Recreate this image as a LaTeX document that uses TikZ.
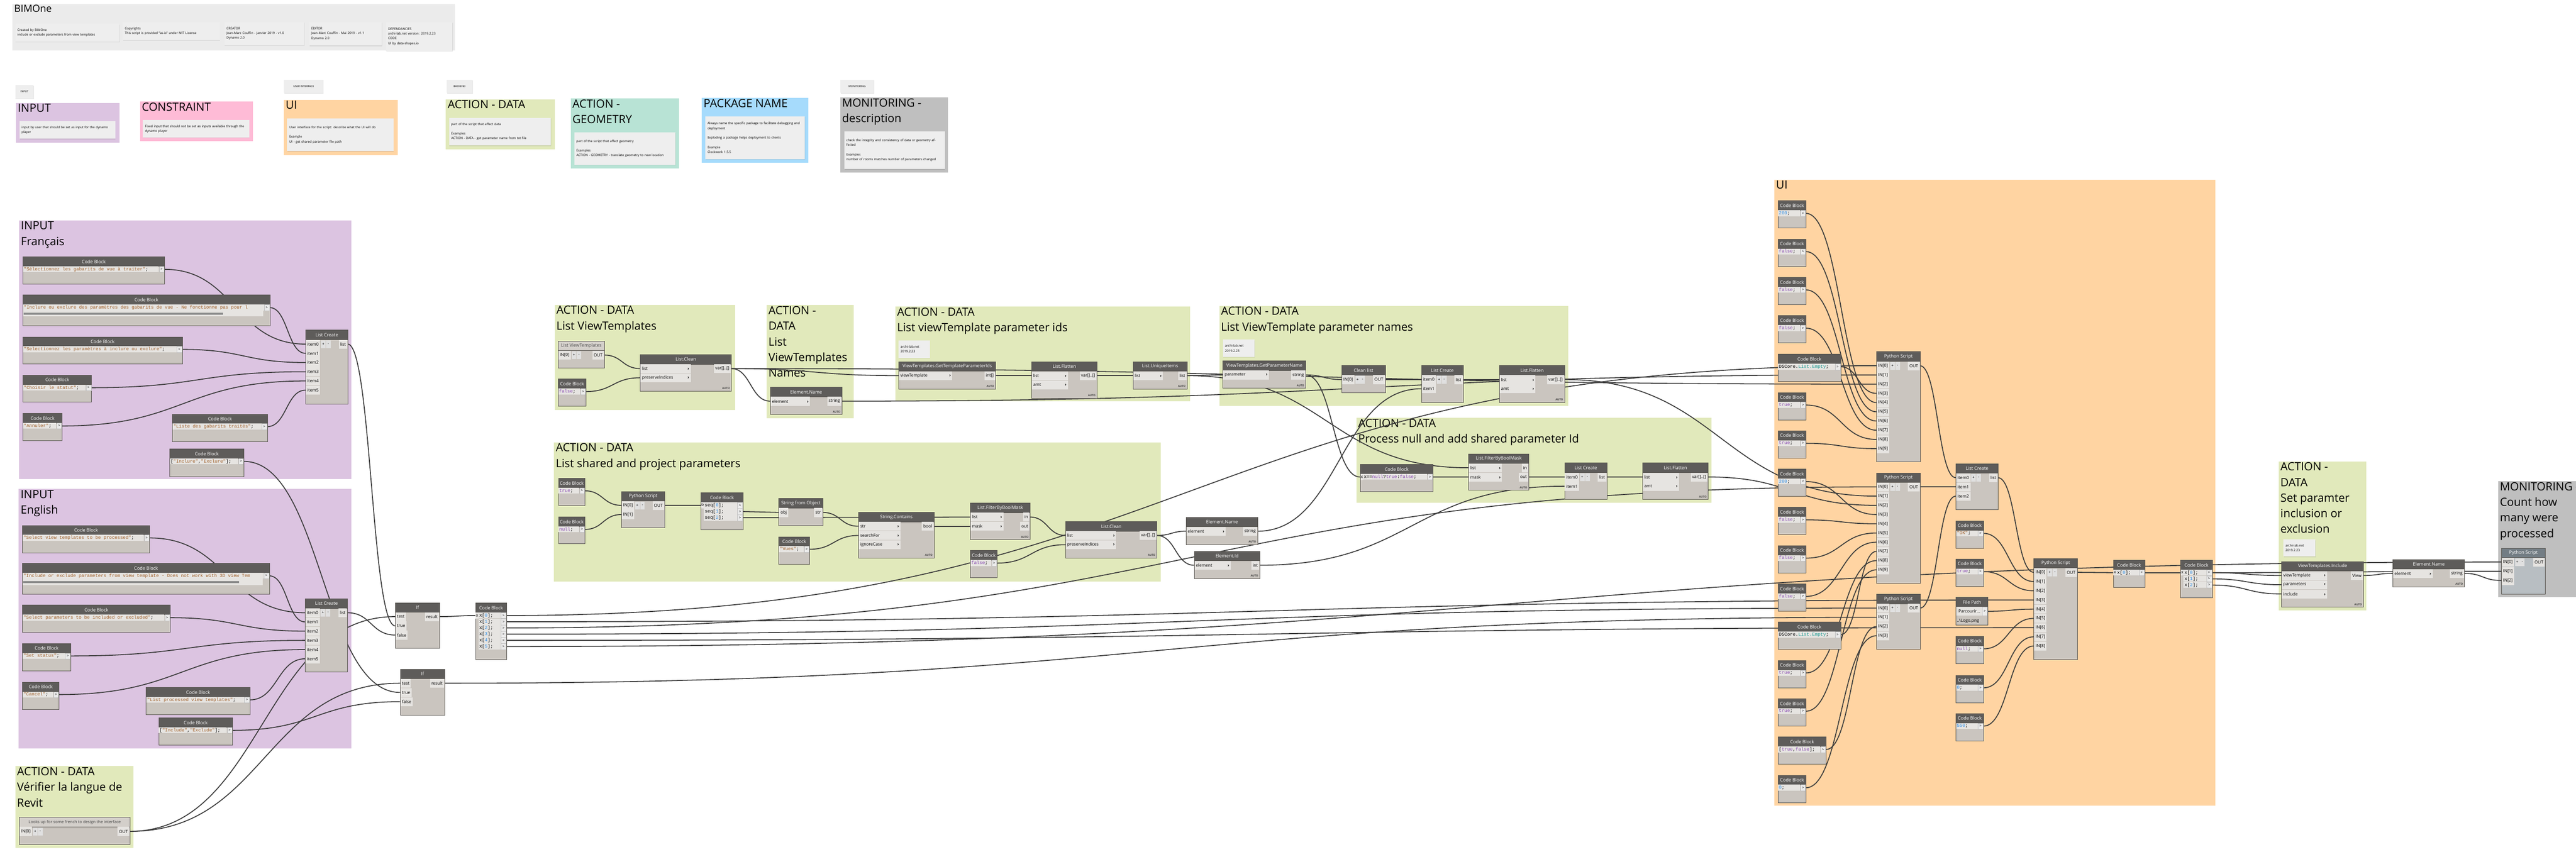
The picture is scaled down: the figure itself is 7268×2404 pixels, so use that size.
\documentclass[tikz,border=0pt]{standalone}
\usepackage{fontspec}
\setmainfont{Open Sans}
\setmonofont{Liberation Mono}
\usetikzlibrary{positioning, shadows, calc}

\definecolor{grpdoc}{HTML}{EBEBEB}
\definecolor{grpin}{HTML}{DCC4E1}
\definecolor{grpcon}{HTML}{FEBBD6}
\definecolor{grpui}{HTML}{FFD4A2}
\definecolor{grpact}{HTML}{E1E9BB}
\definecolor{grpgeo}{HTML}{B8E3D5}
\definecolor{grppkg}{HTML}{A6DBFC}
\definecolor{grpmon}{HTML}{BFBFBF}
\definecolor{headc}{HTML}{5E5C5A}
\definecolor{bodyc}{HTML}{CAC5BF}
\definecolor{portc}{HTML}{E6E4E1}
\definecolor{lheadc}{HTML}{D3CFCA}
\definecolor{edgec}{HTML}{57544F}
\definecolor{wirec}{HTML}{3C3C3C}
\definecolor{notec}{HTML}{EEEEEE}
\definecolor{strc}{HTML}{A0602A}
\definecolor{kwc}{HTML}{8A4CB4}
\definecolor{numc}{HTML}{2F8FE8}
\definecolor{typc}{HTML}{1C9A92}
\definecolor{mheadc}{HTML}{737D84}
\definecolor{mbodyc}{HTML}{B8BEC2}

\newlength{\cblen}
\newcommand{\portfont}{\fontsize{12}{14}\selectfont}
\newcommand{\cstr}[1]{\textcolor{strc}{#1}}
\newcommand{\ckw}[1]{\textcolor{kwc}{#1}}
\newcommand{\cnum}[1]{\textcolor{numc}{#1}}
\newcommand{\ctyp}[1]{\textcolor{typc}{#1}}

\pgfdeclarelayer{bg}
\pgfdeclarelayer{wires}
\pgfsetlayers{bg,wires,main}

\tikzset{
  gtitle/.style={anchor=north west, align=left, inner sep=2pt, font=\fontsize{32}{44}\selectfont},
  note/.style={anchor=north west, align=left, fill=notec, inner xsep=6pt, inner ysep=3pt,
    font=\fontsize{9}{13.5}\selectfont, drop shadow={opacity=0.18, shadow xshift=1pt, shadow yshift=-2pt}},
  tag/.style={anchor=north west, fill=notec, minimum height=37pt, inner sep=2pt,
    font=\fontsize{7.5}{9}\selectfont, drop shadow={opacity=0.18, shadow xshift=1pt, shadow yshift=-2pt}},
  nbody/.style={anchor=north west, draw=edgec, line width=1.2pt, inner sep=0},
  nhead/.style={anchor=north west, draw=edgec, line width=1.2pt, minimum height=27pt, inner sep=0,
    font=\fontsize{13}{15}\selectfont},
  bodydark/.style={fill=bodyc}, bodylight/.style={fill=bodyc}, bodymono/.style={fill=mbodyc},
  headdark/.style={fill=headc, text=white}, headlight/.style={fill=lheadc, text=black!70},
  headmono/.style={fill=mheadc, text=white},
  inport/.style={anchor=north west, fill=portc, minimum height=25pt, inner xsep=4pt, inner ysep=0, font=\portfont},
  outport/.style={anchor=north east, fill=portc, minimum height=25pt, inner xsep=4pt, inner ysep=0, font=\portfont},
  pmbtn/.style={fill=white!88!black, minimum width=13pt, minimum height=22pt, inner sep=0,
    font=\fontsize{11}{11}\selectfont},
  cbin/.style={anchor=north west, fill=portc, minimum height=16.5pt, inner sep=0, font=\portfont},
  code/.style={anchor=west, inner sep=0, font={\ttfamily\fontsize{13}{15}\selectfont}},
  cbarrow/.style={anchor=north east, fill=white!92!black, draw=black!25, minimum width=14pt,
    minimum height=16.5pt, inner sep=0, font=\fontsize{10}{10}\selectfont},
  autotag/.style={anchor=south east, inner sep=0, text=black!75, font=\bfseries\fontsize{7.5}{8}\selectfont},
  wire/.style={draw=wirec, line width=2.6pt}
}

% group: name, x1, y1, x2, y2, colour, title
\newcommand{\grp}[7]{%
  \begin{pgfonlayer}{bg}
    \fill[#6] (#2,#3) rectangle (#4,#5);
    \node[gtitle] (#1) at ({#2+3},{#3+1}) {#7};
  \end{pgfonlayer}}

% note: name, x, y, w, h, text
\newcommand{\note}[6]{%
  \pgfmathsetmacro\nw{#4-12}%
  \node[note, minimum width=#4pt, minimum height=#5pt, text width=\nw pt] (#1) at (#2,#3) {#6};}

% node: [scheme] name, x, y, w, h, title, inputs, outputs
\newcommand{\dyn}[9][dark]{%
  \node[nbody, body#1, minimum width=#5pt, minimum height=#6pt] (#2) at (#3,#4) {};
  \node[nhead, head#1, minimum width=#5pt] (#2-h) at (#3,#4) {#7};
  \foreach \p [count=\i] in {#8} {
    \node[inport] (#2-p\i) at ({#3+1},{#4+27.5+(\i-1)*26}) {\p};
    \coordinate (#2-i\i) at ({#3},{#4+40+(\i-1)*26});
  }
  \foreach \p [count=\i] in {#9} {
    \node[outport] (#2-q\i) at ({#3+#5-1},{#4+27.5+(\i-1)*26}) {\p};
    \coordinate (#2-o\i) at ({#3+#5},{#4+40+(\i-1)*26});
  }}

% library node with chevrons and AUTO: name, x, y, w, h, title, inputs, outputs
\newcommand{\lib}[8]{%
  \node[nbody, bodydark, minimum width=#4pt, minimum height=#5pt] (#1) at (#2,#3) {};
  \node[nhead, headdark, minimum width=#4pt] (#1-h) at (#2,#3) {#6};
  \pgfmathsetmacro\pw{0.55*#4-8}%
  \foreach \p [count=\i] in {#7} {
    \node[inport, text width=\pw pt] (#1-p\i) at ({#2+1},{#3+27.5+(\i-1)*26}) {\p\hfill\textbf{›}};
    \coordinate (#1-i\i) at ({#2},{#3+40+(\i-1)*26});
  }
  \foreach \p [count=\i] in {#8} {
    \node[outport] (#1-q\i) at ({#2+#4-1},{#3+27.5+(\i-1)*26}) {\p};
    \coordinate (#1-o\i) at ({#2+#4},{#3+40+(\i-1)*26});
  }
  \node[autotag] (#1-a) at ({#2+#4-4},{#3+#5-4}) {AUTO};}

% code block: [input] name, x, y, w, h, lines
\newcommand{\cb}[7][]{%
  \node[nbody, bodydark, minimum width=#5pt, minimum height=#6pt] (#2) at (#3,#4) {};
  \node[nhead, headdark, minimum width=#5pt] (#2-h) at (#3,#4) {Code Block};
  \if\relax\detokenize{#1}\relax
    \def\cbw{0}%
  \else
    \settowidth{\cblen}{\portfont #1}%
    \pgfmathsetmacro\cbw{\cblen+8}%
    \node[cbin, minimum width=\cbw pt] (#2-x) at ({#3+1},{#4+27.5}) {#1};
    \coordinate (#2-i1) at ({#3},{#4+36});
  \fi
  \foreach \ctext [count=\i] in {#7} {
    \pgfmathsetmacro\rw{#5-17-\cbw}
    \fill[portc] ({#3+1+\cbw},{#4+27.5+(\i-1)*17.5}) rectangle +(\rw,16.5);
    \node[code] (#2-c\i) at ({#3+3+\cbw},{#4+36+(\i-1)*17.5}) {\ctext};
    \node[cbarrow] (#2-r\i) at ({#3+#5-1},{#4+27.5+(\i-1)*17.5}) {>};
    \coordinate (#2-o\i) at ({#3+#5},{#4+36+(\i-1)*17.5});
  }}

\newcommand{\addrem}[1]{%
  \node[pmbtn, right=2pt of #1-p1] (#1-add) {+};
  \node[pmbtn, right=1pt of #1-add] (#1-rem) {-};}

% connector from an output to an input
\newcommand{\wire}[2]{%
  \draw[wire] let \p1=(#1), \p2=(#2), \n1={max(0.5*abs(\x2-\x1),40)} in
    (\p1) .. controls +(\n1,0) and +(-\n1,0) .. (\p2);}

\begin{document}
\begin{tikzpicture}[x=1pt, y=-1pt]
\useasboundingbox (0,0) rectangle (7268,2404);

% legend
\grp{gdoc}{35}{11}{1284}{143}{grpdoc}{\fontsize{28}{34}\selectfont BIMOne}
\note{ndoc1}{43}{67}{294}{50}{Created by BIMOne\\include or exclude parameters from view templates}
\note{ndoc2}{346}{63}{274}{50}{Copyrights\\This script is provided "as-is" under MIT License}
\note{ndoc3}{633}{62}{225}{65}{CREATOR\\Jean-Marc Couffin - Janvier 2019 - v1.0\\Dynamo 2.0}
\note{ndoc4}{872}{62}{205}{66}{EDITOR\\Jean-Marc Couffin - Mai 2019 - v1.1\\Dynamo 2.0}
\note{ndoc5}{1089}{62}{187}{81}{DEPENDANCIES\\archi-lab.net version: 2019.2.23\\CODE\\UI by data-shapes.io}

\node[tag, minimum width=52pt] (tinput) at (43,240) {INPUT};
\node[tag, minimum width=111pt] (tui) at (801,225) {USER INTERFACE};
\node[tag, minimum width=73pt] (tback) at (1260,225) {BACKEND};
\node[tag, minimum width=94pt] (tmon) at (2371,225) {MONITORING};

\grp{lin}{45}{290}{337}{402}{grpin}{INPUT}
\note{nlin}{55}{342}{270}{49}{input by user that should be set as input for the dynamo player}
\grp{lcon}{395}{287}{713}{398}{grpcon}{CONSTRAINT}
\note{nlcon}{403}{339}{300}{49}{Fixed input that should not be set as inputs available through the dynamo player}
\grp{lui}{801}{282}{1122}{437}{grpui}{UI}
\note{nlui}{810}{334}{300}{92}{User interface for the script: describe what the UI will do\\[13.5pt]Example\\UI - get shared parameter file path}
\grp{lact}{1258}{280}{1566}{421}{grpact}{ACTION - DATA}
\note{nlact}{1267}{332}{287}{78}{part of the script that affect data\\[13.5pt]Examples\\ACTION - DATA - get parameter name from txt file}
\grp{lgeo}{1610}{278}{1916}{476}{grpgeo}{ACTION -\\GEOMETRY}
\note{nlgeo}{1620}{373}{286}{92}{part of the script that affect geometry\\[13.5pt]Examples\\ACTION - GEOMETRY - translate geometry to new location}
\grp{lpkg}{1980}{276}{2281}{460}{grppkg}{PACKAGE NAME}
\note{nlpkg}{1990}{328}{281}{121}{Always name the specific package to facilitate debugging and deployment\\[13.5pt]Exploding a package helps deployment to clients\\[13.5pt]Example\\Clockwork 1.5.5}
\grp{lmon}{2371}{275}{2674}{487}{grpmon}{MONITORING -\\description}
\note{nlmon}{2382}{370}{283}{107}{check the integrity and consistency of data or geometry affected\\[13.5pt]Examples\\number of rooms matches number of parameters changed}

% inputs
\grp{gfr}{54}{622}{991}{1352}{grpin}{INPUT\\Français}
\cb{fr1}{64}{724}{400}{77}{\cstr{"Sélectionnez les gabarits de vue à traiter"};}
\cb{fr2}{64}{832}{697}{86}{\cstr{"Inclure ou exclure des paramètres des gabarits de vue - Ne fonctionne pas pour l}}
\fill[portc] (65,876) rectangle (743,893);
\fill[black!45] (67,882) rectangle (629,888);
\cb{fr3}{64}{950}{450}{76}{\cstr{"Selectionnez les paramètres à inclure ou exclure"};}
\cb{fr4}{64}{1058}{194}{76}{\cstr{"Choisir le statut"};}
\cb{fr5}{64}{1166}{111}{77}{\cstr{"Annuler"};}
\cb{fr6}{486}{1168}{268}{78}{\cstr{"Liste des gabarits traités"};}
\cb{fr7}{478}{1266}{210}{78}{{[\cstr{"Inclure"},\cstr{"Exclure"}];}}
\dyn{frlc}{862}{931}{119}{208}{List Create}{item0,item1,item2,item3,item4,item5}{list}
\addrem{frlc}

\grp{gen}{53}{1380}{991}{2112}{grpin}{INPUT\\English}
\cb{en1}{63}{1482}{359}{77}{\cstr{"Select view templates to be processed"};}
\cb{en2}{63}{1589}{697}{87}{\cstr{"Include or exclude parameters from view template - Does not work with 3D view Tem}}
\fill[portc] (64,1633) rectangle (742,1651);
\fill[black!45] (66,1639) rectangle (674,1645);
\cb{en3}{63}{1707}{417}{77}{\cstr{"Select parameters to be included or excluded"};}
\cb{en4}{63}{1815}{136}{77}{\cstr{"Set status"};}
\cb{en5}{63}{1924}{103}{77}{\cstr{"Cancel"};}
\cb{en6}{412}{1939}{293}{77}{\cstr{"List processed view templates"};}
\cb{en7}{447}{2025}{209}{77}{{[\cstr{"Include"},\cstr{"Exclude"}];}}
\dyn{enlc}{861}{1689}{119}{207}{List Create}{item0,item1,item2,item3,item4,item5}{list}
\addrem{enlc}

\grp{glang}{43}{2162}{376}{2393}{grpact}{ACTION - DATA\\Vérifier la langue de\\Revit}
\dyn[light]{lang}{54}{2306}{312}{76}{\fontsize{11.5}{13}\selectfont Looks up for some french to design the interface}{IN[0]}{OUT}
\addrem{lang}

\dyn{if1}{1115}{1700}{125}{129}{If}{test,true,false}{result}
\dyn{if2}{1129}{1888}{125}{129}{If}{test,true,false}{result}
\cb[x]{cbx}{1341}{1701}{88}{159}{x[\cnum{0}];,x[\cnum{1}];,x[\cnum{2}];,x[\cnum{3}];,x[\cnum{4}];,x[\cnum{5}];}

% view templates
\grp{gvt}{1565}{860}{2074}{1157}{grpact}{ACTION - DATA\\List ViewTemplates}
\dyn[light]{lvt}{1574}{962}{131}{76}{List ViewTemplates}{IN[0]}{OUT}
\addrem{lvt}
\cb{vtf}{1574}{1069}{79}{77}{\ckw{false};}
\lib{vtclean}{1806}{1000}{257}{103}{List.Clean}{list,preserveIndices}{var[]..[]}

\grp{gvtn}{2163}{861}{2409}{1180}{grpact}{ACTION -\\DATA\\List\\ViewTemplates\\Names}
\lib{vtname}{2173}{1092}{202}{77}{Element.Name}{element}{string}

\grp{gids}{2526}{865}{3358}{1133}{grpact}{ACTION - DATA\\List viewTemplate parameter ids}
\note{note1}{2535}{960}{88}{50}{archi-lab.net\\2019.2.23}
\lib{gtpi}{2535}{1020}{274}{77}{ViewTemplates.GetTemplateParameterIds}{viewTemplate}{int[]}
\lib{fl1}{2910}{1020}{185}{103}{List.Flatten}{list,amt}{var[]..[]}
\lib{uniq}{3196}{1020}{153}{77}{List.UniqueItems}{list}{list}

\grp{gnames}{3440}{863}{4424}{1145}{grpact}{ACTION - DATA\\List ViewTemplate parameter names}
\note{note2}{3450}{958}{89}{49}{archi-lab.net\\2019.2.23}
\lib{gpn}{3450}{1018}{234}{77}{ViewTemplates.GetParameterName}{parameter}{string}
\dyn{clean}{3785}{1031}{123}{77}{Clean list}{IN[0]}{OUT}
\addrem{clean}
\dyn{lc2}{4010}{1031}{118}{104}{List Create}{item0,item1}{list}
\addrem{lc2}
\lib{fl2}{4230}{1031}{184}{104}{List.Flatten}{list,amt}{var[]..[]}

\grp{gnull}{3827}{1179}{4829}{1419}{grpact}{ACTION - DATA\\Process null and add shared parameter Id}
\cb[x]{isnull}{3837}{1310}{206}{77}{x==\ckw{null}?\ckw{true}:\ckw{false};}
\lib{fbm2}{4143}{1280}{170}{103}{List.FilterByBoolMask}{list,mask}{in,out}
\dyn{lc3}{4414}{1306}{119}{103}{List Create}{item0,item1}{list}
\addrem{lc3}
\lib{fl3}{4634}{1306}{185}{103}{List.Flatten}{list,amt}{var[]..[]}

% shared parameters
\grp{gshared}{1563}{1248}{3275}{1641}{grpact}{ACTION - DATA\\List shared and project parameters}
\cb{sptrue}{1575}{1349}{75}{77}{\ckw{true};}
\cb{spnull}{1575}{1458}{75}{76}{\ckw{null};}
\dyn{sppy}{1753}{1386}{122}{103}{Python Script}{IN[0],IN[1]}{OUT}
\addrem{sppy}
\cb[seq]{spseq}{1977}{1390}{119}{105}{seq[\cnum{0}];,seq[\cnum{1}];,seq[\cnum{2}];}
\dyn{sfo}{2197}{1406}{124}{77}{String from Object}{obj}{str}
\cb{vues}{2197}{1514}{87}{77}{\cstr{"Vues"};}
\lib{scont}{2422}{1445}{213}{129}{String.Contains}{str,searchFor,ignoreCase}{bool}
\lib{fbm1}{2737}{1419}{169}{103}{List.FilterByBoolMask}{list,mask}{in,out}
\cb{spfalse}{2737}{1553}{76}{77}{\ckw{false};}
\lib{spclean}{3006}{1471}{258}{103}{List.Clean}{list,preserveIndices}{var[]..[]}
\lib{shname}{3346}{1459}{202}{77}{Element.Name}{element}{string}
\lib{shid}{3369}{1555}{185}{77}{Element.Id}{element}{int}

% user interface
\grp{gui}{5006}{507}{6251}{2274}{grpui}{UI}
\cb{u200a}{5016}{566}{79}{77}{\cnum{200};}
\cb{uf1}{5016}{674}{79}{77}{\ckw{false};}
\cb{uf2}{5016}{782}{79}{77}{\ckw{false};}
\cb{uf3}{5016}{890}{79}{77}{\ckw{false};}
\cb{uemp1}{5016}{999}{177}{77}{DSCore.\ctyp{List.Empty};}
\cb{ut1}{5016}{1107}{79}{77}{\ckw{true};}
\cb{ut2}{5016}{1215}{79}{77}{\ckw{true};}
\cb{u200b}{5016}{1323}{79}{77}{\cnum{200};}
\cb{uf4}{5016}{1431}{79}{77}{\ckw{false};}
\cb{uf5}{5016}{1539}{79}{77}{\ckw{false};}
\cb{uf6}{5016}{1647}{79}{77}{\ckw{false};}
\cb{uemp2}{5016}{1755}{177}{77}{DSCore.\ctyp{List.Empty};}
\cb{ut3}{5016}{1863}{79}{77}{\ckw{true};}
\cb{ut4}{5016}{1971}{79}{77}{\ckw{true};}
\cb{utf}{5016}{2079}{136}{77}{{[\ckw{true},\ckw{false}];}}
\cb{u0a}{5016}{2187}{79}{77}{\cnum{0};}
\dyn{ps1}{5294}{992}{123}{311}{Python Script}{IN[0],IN[1],IN[2],IN[3],IN[4],IN[5],IN[6],IN[7],IN[8],IN[9]}{OUT}
\addrem{ps1}
\dyn{ps2}{5294}{1334}{123}{311}{Python Script}{IN[0],IN[1],IN[2],IN[3],IN[4],IN[5],IN[6],IN[7],IN[8],IN[9]}{OUT}
\addrem{ps2}
\dyn{ps3}{5294}{1676}{123}{156}{Python Script}{IN[0],IN[1],IN[2],IN[3]}{OUT}
\addrem{ps3}
\dyn{lcu}{5518}{1308}{119}{129}{List Create}{item0,item1,item2}{list}
\addrem{lcu}
\cb{uok}{5518}{1469}{78}{77}{\cstr{"OK"};}
\cb{ut5}{5518}{1577}{78}{77}{\ckw{true};}
\node[nbody, bodydark, minimum width=90pt, minimum height=78pt] (fpath) at (5518,1685) {};
\node[nhead, headdark, minimum width=90pt] (fpath-h) at (5518,1685) {File Path};
\node[inport, minimum width=74pt] (fpath-p1) at (5519,1712.5) {Parcourir...};
\node[cbarrow, minimum height=25pt] (fpath-r1) at (5607,1712.5) {>};
\coordinate (fpath-o1) at (5608,1725);
\node[anchor=west, inner sep=0, font=\portfont] (fpath-t) at (5521,1752) {..\textbackslash Logo.png};
\cb{unull}{5518}{1795}{78}{77}{\ckw{null};}
\cb{u0b}{5518}{1905}{78}{77}{\cnum{0};}
\cb{u550}{5518}{2013}{78}{77}{\cnum{550};}
\dyn{ps4}{5738}{1575}{123}{285}{Python Script}{IN[0],IN[1],IN[2],IN[3],IN[4],IN[5],IN[6],IN[7],IN[8]}{OUT}
\addrem{ps4}
\cb[x]{cx0}{5962}{1580}{89}{77}{x[\cnum{0}];}
\cb[x]{cx3}{6152}{1580}{89}{106}{x[\cnum{0}];,x[\cnum{1}];,x[\cnum{2}];}

% set parameters and monitoring
\grp{gset}{6429}{1302}{6676}{1722}{grpact}{ACTION -\\DATA\\Set paramter\\inclusion or\\exclusion}
\note{note3}{6442}{1522}{90}{48}{archi-lab.net\\2019.2.23}
\lib{vtinc}{6437}{1584}{231}{129}{ViewTemplates.Include}{viewTemplate,parameters,include}{View}
\lib{monname}{6751}{1578}{202}{77}{Element.Name}{element}{string}
\grp{gmon}{7048}{1358}{7330}{1685}{grpmon}{MONITORING -\\Count how\\many were\\processed}
\dyn[mono]{monpy}{7057}{1546}{124}{130}{Python Script}{IN[0],IN[1],IN[2]}{OUT}
\addrem{monpy}

% wires
\begin{pgfonlayer}{wires}
\foreach \k in {1,...,6} {
  \wire{fr\k-o1}{frlc-i\k}
  \wire{en\k-o1}{enlc-i\k}
}
\wire{frlc-o1}{if1-i2}
\wire{enlc-o1}{if1-i3}
\wire{lang-o1}{if1-i1}
\wire{lang-o1}{if2-i1}
\wire{fr7-o1}{if2-i2}
\wire{en7-o1}{if2-i3}
\wire{if1-o1}{cbx-i1}

\wire{lvt-o1}{vtclean-i1}
\wire{vtf-o1}{vtclean-i2}
\wire{vtclean-o1}{vtname-i1}
\wire{vtclean-o1}{gtpi-i1}
\wire{gtpi-o1}{fl1-i1}
\wire{fl1-o1}{uniq-i1}
\wire{uniq-o1}{gpn-i1}
\wire{uniq-o1}{fbm2-i1}
\wire{gpn-o1}{clean-i1}
\wire{gpn-o1}{isnull-i1}
\wire{clean-o1}{lc2-i1}
\wire{lc2-o1}{fl2-i1}
\wire{isnull-o1}{fbm2-i2}
\wire{fbm2-o2}{lc3-i1}
\wire{lc3-o1}{fl3-i1}

\wire{sptrue-o1}{sppy-i1}
\wire{spnull-o1}{sppy-i2}
\wire{sppy-o1}{spseq-i1}
\wire{spseq-o2}{sfo-i1}
\wire{spseq-o3}{fbm1-i1}
\wire{sfo-o1}{scont-i1}
\wire{vues-o1}{scont-i2}
\wire{scont-o1}{fbm1-i2}
\wire{fbm1-o1}{spclean-i1}
\wire{spfalse-o1}{spclean-i2}
\wire{spclean-o1}{shname-i1}
\wire{spclean-o1}{shid-i1}
\wire{shname-o1}{lc2-i2}
\wire{shid-o1}{lc3-i2}

\wire{cbx-o1}{ps1-i1}
\wire{vtname-o1}{ps1-i2}
\wire{vtclean-o1}{ps1-i3}
\wire{uemp1-o1}{ps1-i4}
\wire{u200a-o1}{ps1-i5}
\wire{uf1-o1}{ps1-i6}
\wire{uf2-o1}{ps1-i7}
\wire{uf3-o1}{ps1-i8}
\wire{ut1-o1}{ps1-i9}
\wire{ut2-o1}{ps1-i10}
\wire{cbx-o3}{ps2-i1}
\wire{fl2-o1}{ps2-i2}
\wire{fl3-o1}{ps2-i3}
\wire{u200b-o1}{ps2-i4}
\wire{uf4-o1}{ps2-i5}
\wire{uf5-o1}{ps2-i6}
\wire{uf6-o1}{ps2-i7}
\wire{uemp2-o1}{ps2-i8}
\wire{ut3-o1}{ps2-i9}
\wire{ut4-o1}{ps2-i10}
\wire{cbx-o4}{ps3-i1}
\wire{if2-o1}{ps3-i2}
\wire{utf-o1}{ps3-i3}
\wire{u0a-o1}{ps3-i4}
\wire{ps1-o1}{lcu-i1}
\wire{ps2-o1}{lcu-i2}
\wire{ps3-o1}{lcu-i3}
\wire{lcu-o1}{ps4-i1}
\wire{uok-o1}{ps4-i2}
\wire{ut5-o1}{ps4-i3}
\wire{cbx-o2}{ps4-i4}
\wire{fpath-o1}{ps4-i5}
\wire{unull-o1}{ps4-i6}
\wire{cbx-o5}{ps4-i7}
\wire{u0b-o1}{ps4-i8}
\wire{u550-o1}{ps4-i9}
\wire{ps4-o1}{cx0-i1}
\wire{cx0-o1}{cx3-i1}

\wire{cx3-o1}{vtinc-i1}
\wire{cx3-o2}{vtinc-i2}
\wire{cx3-o3}{vtinc-i3}
\wire{cx3-o1}{monpy-i2}
\wire{cbx-o6}{monpy-i1}
\wire{vtinc-o1}{monname-i1}
\wire{monname-o1}{monpy-i3}
\end{pgfonlayer}
\end{tikzpicture}
\end{document}
